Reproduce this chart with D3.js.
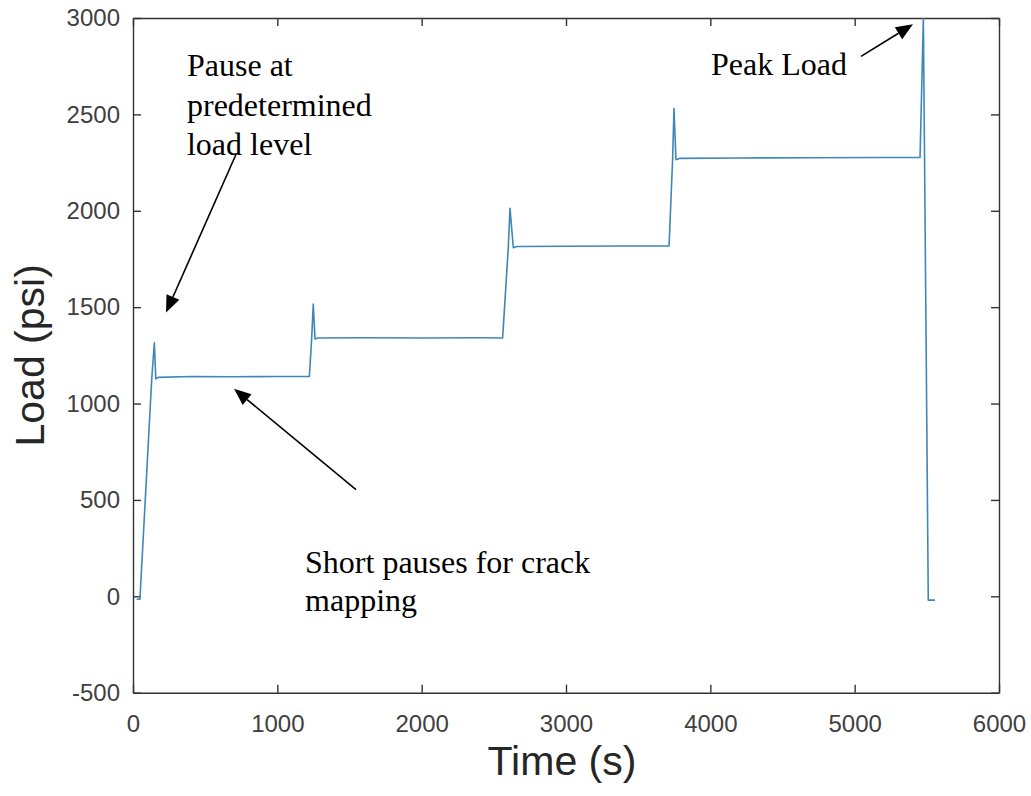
<!DOCTYPE html>
<html>
<head>
<meta charset="utf-8">
<script src="https://cdn.jsdelivr.net/npm/d3@7"></script>
<style>
  html, body { margin: 0; padding: 0; background: #fff; }
  svg { display: block; }
</style>
</head>
<body>
<div id="chart"></div>
<script>
// ---- Data ----
const timeSec = [25, 48, 130, 148, 158, 175, 400, 700, 1000, 1222, 1238, 1249, 1261, 1280, 1600, 2000, 2400, 2561, 2600, 2612, 2635, 2660, 3000, 3400, 3714, 3739, 3748, 3762, 3790, 4200, 4700, 5200, 5453, 5476, 5510, 5557];
const loadPsi = [-15, -15, 1130, 1315, 1128, 1136, 1140, 1139, 1140, 1140, 1338, 1516, 1335, 1340, 1341, 1340, 1341, 1340, 1808, 2013, 1808, 1815, 1816, 1817, 1818, 2273, 2532, 2265, 2272, 2274, 2275, 2276, 2276, 2998, -20, -20];

const xTicks = [0, 1000, 2000, 3000, 4000, 5000, 6000];
const yTicks = [-500, 0, 500, 1000, 1500, 2000, 2500, 3000];
const xDomain = [0, 6000];
const yDomain = [-500, 3000];

const xLabel = "Time (s)";
const yLabel = "Load (psi)";

// annotations: [text lines], anchor in data coords
const annoPause = ["Pause at", "predetermined", "load level"];
const annoShort = ["Short pauses for crack", "mapping"];
const annoPeak = ["Peak Load"];
// arrows: [fromTime, fromLoad, toTime, toLoad]
const arrows = [
  [714, 2293, 229, 1472],
  [1545, 553, 700, 1077],
  [5044, 2801, 5404, 2967]
];

// ---- Layout ----
const W = 1031, H = 796;
const plot = { left: 133, right: 999, top: 18, bottom: 692.7 };

const svg = d3.select("#chart").append("svg")
  .attr("width", W).attr("height", H)
  .attr("viewBox", `0 0 ${W} ${H}`);

svg.append("rect").attr("width", W).attr("height", H).attr("fill", "#fff");

const x = d3.scaleLinear().domain(xDomain).range([plot.left, plot.right]);
const y = d3.scaleLinear().domain(yDomain).range([plot.bottom, plot.top]);

const tickColor = "#404040";
const lineColor = "#333";
const fmt = d => String(d);   // plain hyphen-minus like the reference

svg.append("defs").append("clipPath").attr("id", "clip")
  .append("rect")
  .attr("x", plot.left).attr("y", plot.top)
  .attr("width", plot.right - plot.left)
  .attr("height", plot.bottom - plot.top);

// Axes
function styleAxis(g) {
  g.select(".domain").attr("stroke", lineColor).attr("stroke-width", 1.4);
  g.selectAll(".tick line").attr("stroke", lineColor).attr("stroke-width", 1.4);
  g.selectAll(".tick text")
    .attr("fill", tickColor)
    .style("font-family", "'Liberation Sans', Arial, Helvetica, sans-serif")
    .style("font-size", "24px");
}

svg.append("g")
  .attr("transform", `translate(0,${plot.bottom})`)
  .call(d3.axisBottom(x).tickValues(xTicks).tickFormat(fmt)
    .tickSizeInner(-8).tickSizeOuter(0).tickPadding(22))
  .call(styleAxis);

svg.append("g")
  .attr("transform", `translate(0,${plot.top})`)
  .call(d3.axisTop(x).tickValues(xTicks).tickFormat("")
    .tickSizeInner(-8).tickSizeOuter(0))
  .call(styleAxis);

svg.append("g")
  .attr("transform", `translate(${plot.left},0)`)
  .call(d3.axisLeft(y).tickValues(yTicks).tickFormat(fmt)
    .tickSizeInner(-8).tickSizeOuter(0).tickPadding(13))
  .call(styleAxis);

svg.append("g")
  .attr("transform", `translate(${plot.right},0)`)
  .call(d3.axisRight(y).tickValues(yTicks).tickFormat("")
    .tickSizeInner(-8).tickSizeOuter(0))
  .call(styleAxis);

// Data line
const data = timeSec.map((t, i) => ({ t, v: loadPsi[i] }));
svg.append("path")
  .datum(data)
  .attr("clip-path", "url(#clip)")
  .attr("fill", "none")
  .attr("stroke", "#3f87b8")
  .attr("stroke-width", 1.6)
  .attr("stroke-linejoin", "round")
  .attr("d", d3.line().x(d => x(d.t)).y(d => y(d.v)));

// Axis labels
svg.append("text")
  .attr("x", (plot.left + plot.right) / 2 - 4)
  .attr("y", 775)
  .attr("text-anchor", "middle")
  .attr("fill", "#262626")
  .style("font-family", "'Liberation Sans', Arial, Helvetica, sans-serif")
  .style("font-size", "41px")
  .text(xLabel);

svg.append("text")
  .attr("transform", `translate(44,${(plot.top + plot.bottom) / 2}) rotate(-90)`)
  .attr("text-anchor", "middle")
  .attr("fill", "#262626")
  .style("font-family", "'Liberation Sans', Arial, Helvetica, sans-serif")
  .style("font-size", "41px")
  .text(yLabel);

// Annotations
function annoText(lines, t, v, lineH) {
  const g = svg.append("g");
  lines.forEach((s, i) => {
    g.append("text")
      .attr("x", x(t))
      .attr("y", y(v) + i * lineH)
      .attr("fill", "#000")
      .style("font-family", "'Liberation Serif', 'Times New Roman', serif")
      .style("font-size", "32px")
      .text(s);
  });
}
annoText(annoPause, 374, 2697, 39.5);
annoText(annoShort, 1192, 122, 38);
annoText(annoPeak, 4005, 2702, 38);

// Arrows
arrows.forEach(([t0, v0, t1, v1]) => {
  const x0 = x(t0), y0 = y(v0), x1 = x(t1), y1 = y(v1);
  const ang = Math.atan2(y1 - y0, x1 - x0);
  const headL = 17, headW = 7;
  const bx = x1 - headL * Math.cos(ang), by = y1 - headL * Math.sin(ang);
  svg.append("line")
    .attr("x1", x0).attr("y1", y0).attr("x2", bx).attr("y2", by)
    .attr("stroke", "#000").attr("stroke-width", 1.6);
  const px = -Math.sin(ang), py = Math.cos(ang);
  svg.append("path")
    .attr("d", `M${x1},${y1}L${bx + px * headW},${by + py * headW}L${bx - px * headW},${by - py * headW}Z`)
    .attr("fill", "#000");
});
</script>
</body>
</html>
